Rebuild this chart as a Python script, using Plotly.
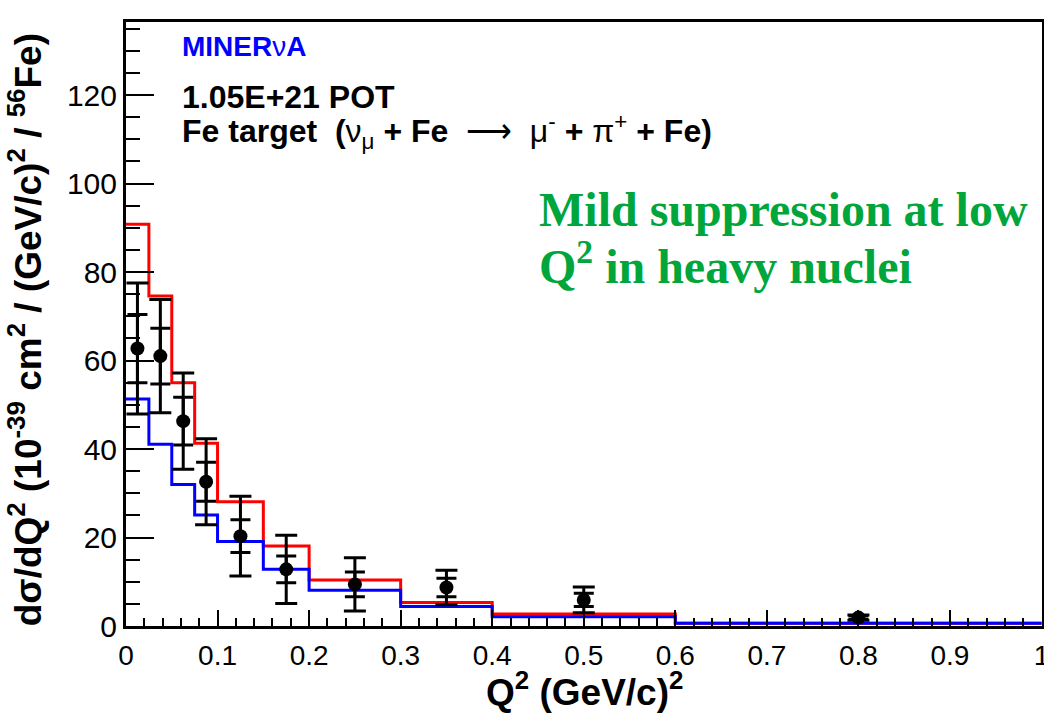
import plotly.graph_objects as go

# Bin edges in Q^2 (GeV/c)^2
bin_edges = [0.0, 0.025, 0.05, 0.075, 0.1, 0.15, 0.2, 0.3, 0.4, 0.6, 1.0]
# Model predictions (10^-39 cm^2/(GeV/c)^2/56Fe)
red_model = [90.8, 74.6, 55.0, 41.3, 28.1, 18.1, 10.4, 5.3, 2.7, 0.6]
blue_model = [51.3, 41.1, 32.0, 25.1, 19.1, 12.8, 8.1, 4.4, 2.1, 0.6]
# Data points
data_x = [0.0125, 0.0375, 0.0625, 0.0875, 0.125, 0.175, 0.25, 0.35, 0.5, 0.8]
data_y = [62.7, 61.0, 46.3, 32.6, 20.3, 12.8, 9.4, 8.7, 5.9, 1.9]
stat_err = [7.7, 6.3, 5.4, 4.4, 3.7, 3.0, 2.8, 2.1, 1.5, 0.4]
total_err = [14.8, 12.8, 10.9, 9.7, 9.0, 7.7, 6.0, 3.9, 2.9, 0.6]

x_ticks = [0, 0.1, 0.2, 0.3, 0.4, 0.5, 0.6, 0.7, 0.8, 0.9, 1.0]
x_tick_labels = ["0", "0.1", "0.2", "0.3", "0.4", "0.5", "0.6", "0.7", "0.8", "0.9", "1"]
y_ticks = [0, 20, 40, 60, 80, 100, 120]

fig = go.Figure()

fig.add_trace(go.Scatter(
    x=bin_edges, y=red_model + [red_model[-1]], mode="lines",
    line=dict(color="#ff0000", width=3, shape="hv"), showlegend=False, hoverinfo="skip"))
fig.add_trace(go.Scatter(
    x=bin_edges, y=blue_model + [blue_model[-1]], mode="lines",
    line=dict(color="#0000ff", width=3, shape="hv"), showlegend=False, hoverinfo="skip"))

fig.add_trace(go.Scatter(
    x=data_x, y=data_y, mode="markers",
    marker=dict(color="black", size=1, opacity=0),
    error_y=dict(type="data", array=total_err, color="black", thickness=3, width=11),
    showlegend=False))
fig.add_trace(go.Scatter(
    x=data_x, y=data_y, mode="markers",
    marker=dict(color="black", size=14, symbol="circle"),
    error_y=dict(type="data", array=stat_err, color="black", thickness=3, width=10),
    showlegend=False))

fig.update_layout(
    width=1044, height=713,
    margin=dict(l=126, r=2, t=22, b=87),
    plot_bgcolor="white", paper_bgcolor="white",
    font=dict(family="Liberation Sans", color="black"),
    xaxis=dict(range=[0, 1.0005], tickvals=x_ticks, ticktext=x_tick_labels,
               ticks="inside", ticklen=16, tickwidth=2, tickcolor="black",
               minor=dict(dtick=0.02, ticks="inside", ticklen=8, tickwidth=2, tickcolor="black"),
               showline=True, linecolor="black", linewidth=3, mirror=True,
               showgrid=False, zeroline=False, ticklabelstandoff=2,
               ticklabeloverflow="allow", automargin=False,
               tickfont=dict(size=28, family="Liberation Sans")),
    yaxis=dict(range=[0, 136.5], tickvals=y_ticks,
               ticks="inside", ticklen=28, tickwidth=2, tickcolor="black",
               minor=dict(dtick=5, ticks="inside", ticklen=14, tickwidth=2, tickcolor="black"),
               showline=True, linecolor="black", linewidth=3, mirror=True,
               showgrid=False, zeroline=False, ticklabelstandoff=0, automargin=False,
               tickfont=dict(size=30, family="Liberation Sans")),
)

annotations = [
    dict(text="dσ/dQ<sup>2</sup> (10<sup>-39</sup> cm<sup>2</sup> / (GeV/c)<sup>2</sup> / <sup>56</sup>Fe)",
         xref="paper", yref="paper", x=-0.11, y=0.49, textangle=-90, showarrow=False,
         font=dict(size=37, family="Liberation Sans", weight="bold"), xanchor="center", yanchor="middle"),
    dict(text="Q<sup>2</sup> (GeV/c)<sup>2</sup>", xref="paper", yref="paper", x=0.5, y=-0.105,
         showarrow=False, font=dict(size=37, family="Liberation Sans", weight="bold"),
         xanchor="center", yanchor="middle"),
    dict(text="MINER<span style='font-weight:normal'>ν</span>A", xref="paper", yref="paper",
         x=0.059, y=0.959, showarrow=False, xanchor="left", yanchor="middle",
         font=dict(size=28, family="Liberation Sans", weight="bold", color="#0000ff")),
    dict(text="1.05E+21 POT", xref="paper", yref="paper",
         x=0.059, y=0.876, showarrow=False, xanchor="left", yanchor="middle",
         font=dict(size=32, family="Liberation Sans", weight="bold")),
    dict(text="Fe target  (<span style='font-weight:normal'>ν<sub>μ</sub></span> + Fe  <span style='font-weight:normal'>⟶  μ<sup>-</sup></span> + <span style='font-weight:normal'>π<sup>+</sup></span> + Fe)",
         xref="paper", yref="paper",
         x=0.059, y=0.818, showarrow=False, xanchor="left", yanchor="middle",
         font=dict(size=32, family="Liberation Sans", weight="bold")),
    dict(text="Mild suppression at low", xref="paper", yref="paper",
         x=0.449, y=0.689, showarrow=False, xanchor="left", yanchor="middle",
         font=dict(size=48, family="Liberation Serif", weight="bold", color="#00a63c")),
    dict(text="Q<sup>2</sup> in heavy nuclei", xref="paper", yref="paper",
         x=0.449, y=0.601, showarrow=False, xanchor="left", yanchor="middle",
         font=dict(size=48, family="Liberation Serif", weight="bold", color="#00a63c")),
]
fig.update_layout(annotations=annotations)

fig.write_html("out.html")
